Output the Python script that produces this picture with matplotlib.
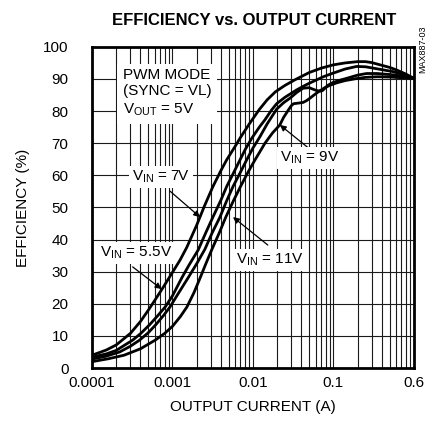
import numpy as np
import matplotlib
matplotlib.use('Agg')
import matplotlib.pyplot as plt
from matplotlib.ticker import LogLocator, NullFormatter

plt.rcParams['font.family'] = ['Liberation Sans', 'DejaVu Sans']
plt.rcParams['mathtext.fontset'] = 'custom'
plt.rcParams['mathtext.rm'] = 'Liberation Sans'

# efficiency curves (current in A, efficiency in %)
i_55 = [1e-4, 1.5e-4, 2e-4, 3e-4, 4e-4, 5e-4, 6e-4, 7.6e-4, 1e-3, 1.24e-3,
        1.5e-3, 2e-3, 2.5e-3, 3.18e-3, 4e-3, 4.71e-3, 6e-3, 7e-3, 9e-3, 1.2e-2,
        1.5e-2, 1.9e-2, 2.5e-2, 3.3e-2, 5e-2, 7.1e-2, 0.1, 0.14, 0.2, 0.25,
        0.3, 0.38, 0.5, 0.61, 0.8, 1.0]
e_55 = [4.0, 5.6, 7.2, 10.8, 14.5, 18, 21, 25, 29.8, 33.6,
        37.5, 44.5, 50.5, 56.5, 61.5, 64.8, 69, 71.8, 76, 80.5,
        83.5, 86, 88, 89.7, 92, 93.4, 94.4, 95, 95.4, 95.4,
        95.1, 94.4, 93.6, 92.8, 91.5, 90.2]

i_7 = [1e-4, 1.5e-4, 2e-4, 3.2e-4, 4e-4, 5.2e-4, 6.5e-4, 8.1e-4, 1e-3, 1.3e-3,
       1.6e-3, 2.09e-3, 2.6e-3, 3.18e-3, 4e-3, 4.71e-3, 5.8e-3, 6.9e-3, 8e-3, 9.64e-3,
       1.2e-2, 1.41e-2, 1.7e-2, 1.97e-2, 2.5e-2, 3.49e-2, 4.5e-2, 5.56e-2, 7.5e-2, 9.86e-2,
       0.14, 0.194, 0.25, 0.309, 0.4, 0.548, 0.75, 1.0]
e_7 = [3.4, 4.4, 5.5, 8.7, 10.7, 13.5, 16.2, 19, 22.5, 28,
       32, 36.8, 42.2, 47, 52.3, 56.5, 61, 64.8, 68, 71.5,
       75, 77.3, 80.3, 82.3, 84.3, 86.6, 88.1, 89.2, 90.7, 91.8,
       93.1, 93.9, 93.8, 93.4, 92.9, 92.3, 91.3, 90.2]

i_9 = [1e-4, 1.5e-4, 2.2e-4, 3e-4, 3.9e-4, 5e-4, 6.2e-4, 7.7e-4, 9.3e-4, 1.2e-3,
       1.6e-3, 2e-3, 2.53e-3, 3.1e-3, 3.89e-3, 4.7e-3, 5.65e-3, 7e-3, 8.35e-3, 1e-2,
       1.22e-2, 1.5e-2, 1.97e-2, 2.4e-2, 2.88e-2, 3.5e-2, 4.18e-2, 5.0e-2, 5.6e-2, 6.18e-2,
       7.0e-2, 7.41e-2, 8.5e-2, 9.86e-2, 0.12, 0.146, 0.2, 0.258, 0.35, 0.548,
       0.75, 1.0]
e_9 = [2.8, 3.7, 5.0, 6.8, 8.7, 11, 13.5, 16.3, 19, 23.5,
       28.5, 32.5, 37, 42, 47, 52, 56.5, 61, 64.8, 68.5,
       72, 76, 80.6, 82.6, 84, 85.8, 87.1, 87.3, 86.8, 86.4,
       86.2, 86.5, 88.0, 88.9, 89.6, 90.2, 91.2, 91.7, 91.7, 91.3,
       90.8, 90.2]

i_11 = [1e-4, 1.6e-4, 2.5e-4, 4e-4, 6.1e-4, 8e-4, 1e-3, 1.25e-3, 1.51e-3, 1.85e-3,
        2.2e-3, 2.6e-3, 3.07e-3, 3.8e-3, 4.6e-3, 5.7e-3, 7.0e-3, 8.6e-3, 1.06e-2, 1.25e-2,
        1.41e-2, 1.75e-2, 2.16e-2, 2.4e-2, 2.7e-2, 3.0e-2, 3.2e-2, 3.7e-2, 4.2e-2, 4.6e-2,
        5.1e-2, 5.8e-2, 6.5e-2, 7.7e-2, 9e-2, 0.11, 0.14, 0.19, 0.25, 0.35,
        0.5, 0.7, 1.0]
e_11 = [2.0, 2.9, 4.0, 6.0, 8.7, 10.8, 13, 16, 19, 23.5,
        28, 32.5, 36.8, 42, 47, 52, 56.5, 60.8, 64.8, 67.8,
        70, 73.2, 75.7, 78, 80, 81.7, 82.3, 82.5, 82.7, 83.2,
        84, 85.1, 86, 87.2, 88, 88.8, 89.5, 90.1, 90.5, 90.7,
        90.6, 90.4, 90.2]

x_ticks = [1e-4, 1e-3, 1e-2, 1e-1, 1.0]
x_labels = ['0.0001', '0.001', '0.01', '0.1', '0.6']
y_ticks = list(range(0, 101, 10))

fig = plt.figure(figsize=(4.28, 4.26), dpi=100)
ax = fig.add_axes([0.215, 0.136, 0.752, 0.754])

for xs, ys in [(i_55, e_55), (i_7, e_7), (i_9, e_9), (i_11, e_11)]:
    ax.plot(xs, ys, color='black', lw=2.0, solid_joinstyle='round', zorder=3)

ax.set_xscale('log')
ax.set_xlim(1e-4, 1.0)
ax.set_ylim(0, 100)
ax.set_xticks(x_ticks, x_labels)
ax.xaxis.set_minor_locator(LogLocator(base=10, subs=np.arange(2, 10)))
ax.xaxis.set_minor_formatter(NullFormatter())
ax.set_yticks(y_ticks)
ax.grid(which='both', axis='x', color='#1a1a1a', lw=0.8)
ax.grid(which='major', axis='y', color='#1a1a1a', lw=0.8)
ax.tick_params(which='both', length=0, labelsize=11)
ax.tick_params(axis='y', pad=17)
ax.tick_params(axis='x', pad=6)
for s in ax.spines.values():
    s.set_linewidth(2.0)
    s.set_zorder(5)

ax.set_xlabel('OUTPUT CURRENT (A)', fontsize=11, labelpad=7)
ax.set_ylabel('EFFICIENCY (%)', fontsize=11, labelpad=9)
fig.text(0.593, 0.953, 'EFFICIENCY vs. OUTPUT CURRENT', ha='center', va='center',
         fontsize=12, fontweight='bold')
fig.text(0.988, 0.885, 'MAX887-03', rotation=90, ha='center', va='center', fontsize=6.5)

box = dict(facecolor='white', edgecolor='none', pad=2)
ax.text(2.4e-4, 93.5, 'PWM MODE\n(SYNC = VL)\nV$_{\\mathrm{OUT}}$ = 5V', ha='left', va='top',
        fontsize=11, linespacing=1.25, bbox=dict(facecolor='white', edgecolor='none', pad=4),
        zorder=4)

arrow = dict(arrowstyle='-|>', color='black', lw=0.9, mutation_scale=9, shrinkA=0, shrinkB=0)
labels = [
    ('V$_{\\mathrm{IN}}$ = 7V', (7.2e-4, 59.5), (2.2e-3, 47), (9.3e-4, 55.1)),
    ('V$_{\\mathrm{IN}}$ = 5.5V', (3.5e-4, 35.8), (7.3e-4, 24.6), (3.2e-4, 31.5)),
    ('V$_{\\mathrm{IN}}$ = 11V', (1.63e-2, 33.6), (5.65e-3, 47), (1.53e-2, 38.3)),
    ('V$_{\\mathrm{IN}}$ = 9V', (5.1e-2, 65.4), (2.16e-2, 75.7), (5.25e-2, 67.9)),
]
for txt, pos, tip, start in labels:
    ax.annotate('', xy=tip, xytext=start, arrowprops=arrow, zorder=4)
    ax.text(pos[0], pos[1], txt, ha='center', va='center', fontsize=11, bbox=box, zorder=4)

fig.savefig('out.png', dpi=100)
